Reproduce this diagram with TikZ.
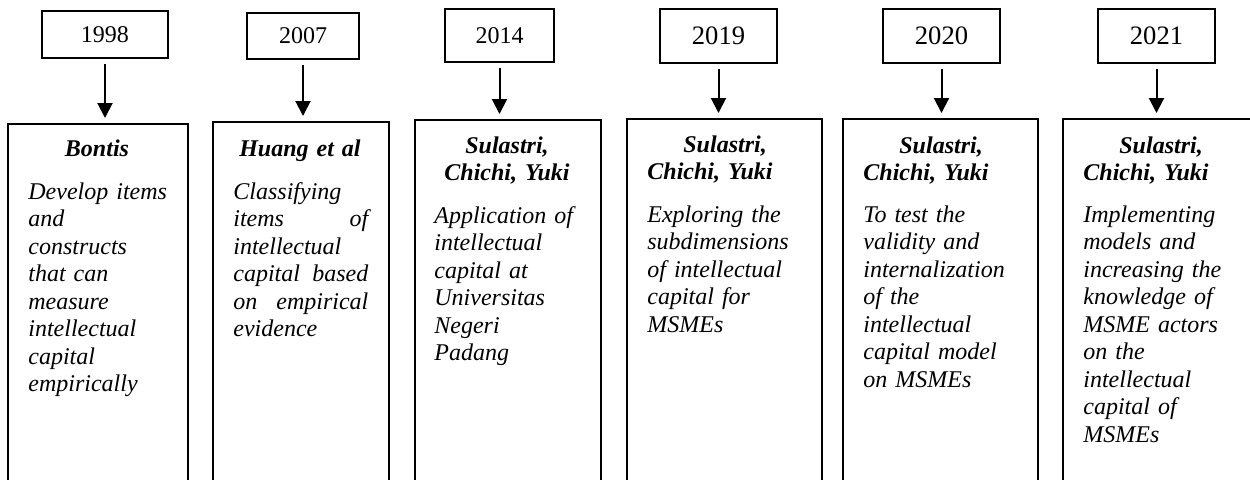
\documentclass[tikz,border=0pt]{standalone}
\usepackage{fontspec}
\setmainfont{Liberation Serif}
\usetikzlibrary{arrows.meta}
\frenchspacing

\tikzset{
	yearbox/.style={draw, line width=1pt, inner sep=0pt, font=\fontsize{12}{14}\selectfont},
	stagebox/.style={draw, line width=1pt, inner sep=0pt, anchor=north west, minimum height=190pt},
	headtext/.style={inner sep=0pt, text width=80pt, font=\fontsize{12}{13.5}\selectfont\bfseries\itshape},
	bodytext/.style={inner sep=0pt, anchor=base west, text width=80pt, align=left, font=\fontsize{12}{13.75}\selectfont\itshape},
	arr/.style={line width=1pt, -{Triangle[width=7.5pt,length=7.5pt]}, shorten <=2.5pt, shorten >=2.5pt}
}

\begin{document}
\begin{tikzpicture}[x=0.5pt,y=-0.5pt]
	\useasboundingbox (0,0) rectangle (1250,479);
	\clip (0,0) rectangle (1250,479);
	% years
	\node[yearbox, minimum width=63pt, minimum height=23.5pt] (y1) at (105,34.5) {1998};
	\node[yearbox, minimum width=56pt, minimum height=23pt] (y2) at (303,36) {2007};
	\node[yearbox, minimum width=54.5pt, minimum height=26.5pt] (y3) at (499.5,35.5) {2014};
	\node[yearbox, minimum width=58.5pt, minimum height=27pt, font=\fontsize{13.3}{15}\selectfont] (y4) at (718.5,36) {2019};
	\node[yearbox, minimum width=58.5pt, minimum height=27pt, font=\fontsize{13.3}{15}\selectfont] (y5) at (941.5,36) {2020};
	\node[yearbox, minimum width=58.5pt, minimum height=27pt, font=\fontsize{13.3}{15}\selectfont] (y6) at (1156.5,36) {2021};
	% stages
	\node[stagebox, minimum width=90pt] (b1) at (7,123) {};
	\node[stagebox, minimum width=88pt] (b2) at (212,121) {};
	\node[stagebox, minimum width=93pt] (b3) at (414,119) {};
	\node[stagebox, minimum width=97.5pt] (b4) at (626,118) {};
	\node[stagebox, minimum width=97.5pt] (b5) at (842,118) {};
	\node[stagebox, minimum width=96pt] (b6) at (1062,118) {};
	% arrows
	\foreach \i in {1,...,6}
		\draw[arr] (y\i.south) -- (y\i.south |- b\i.north);
	% names
	\node[headtext, anchor=base, align=center] (h1) at (97,156) {Bontis};
	\node[headtext, anchor=base, align=center] (h2) at (300,156) {Huang et al};
	\node[headtext, anchor=base, align=center] (h3) at (507,153) {Sulastri,\\Chichi, Yuki};
	\node[headtext, anchor=base west, align=left] (h4) at (647,152) {\hspace*{18pt}Sulastri,\\Chichi, Yuki};
	\node[headtext, anchor=base west, align=left] (h5) at (863,153) {\hspace*{18pt}Sulastri,\\Chichi, Yuki};
	\node[headtext, anchor=base west, align=left] (h6) at (1083,153) {\hspace*{18pt}Sulastri,\\Chichi, Yuki};
	% descriptions
	\node[bodytext] (t1) at (28,199) {Develop items\\and\\constructs\\that can\\measure\\intellectual\\capital\\empirically};
	\node[bodytext, text width=67.5pt, align=justify] (t2) at (233,199) {Classifying\\items\hfill of\\intellectual\\capital\hfill based\\on\hfill empirical\\evidence};
	\node[bodytext] (t3) at (434,223) {Application of\\intellectual\\capital at\\Universitas\\Negeri\\Padang};
	\node[bodytext] (t4) at (647,222) {Exploring the\\subdimensions\\of intellectual\\capital for\\MSMEs};
	\node[bodytext] (t5) at (863,222) {To test the\\validity and\\internalization\\of the\\intellectual\\capital model\\on MSMEs};
	\node[bodytext] (t6) at (1083,222) {Implementing\\models and\\increasing the\\knowledge of\\MSME actors\\on the\\intellectual\\capital of\\MSMEs};
\end{tikzpicture}
\end{document}
